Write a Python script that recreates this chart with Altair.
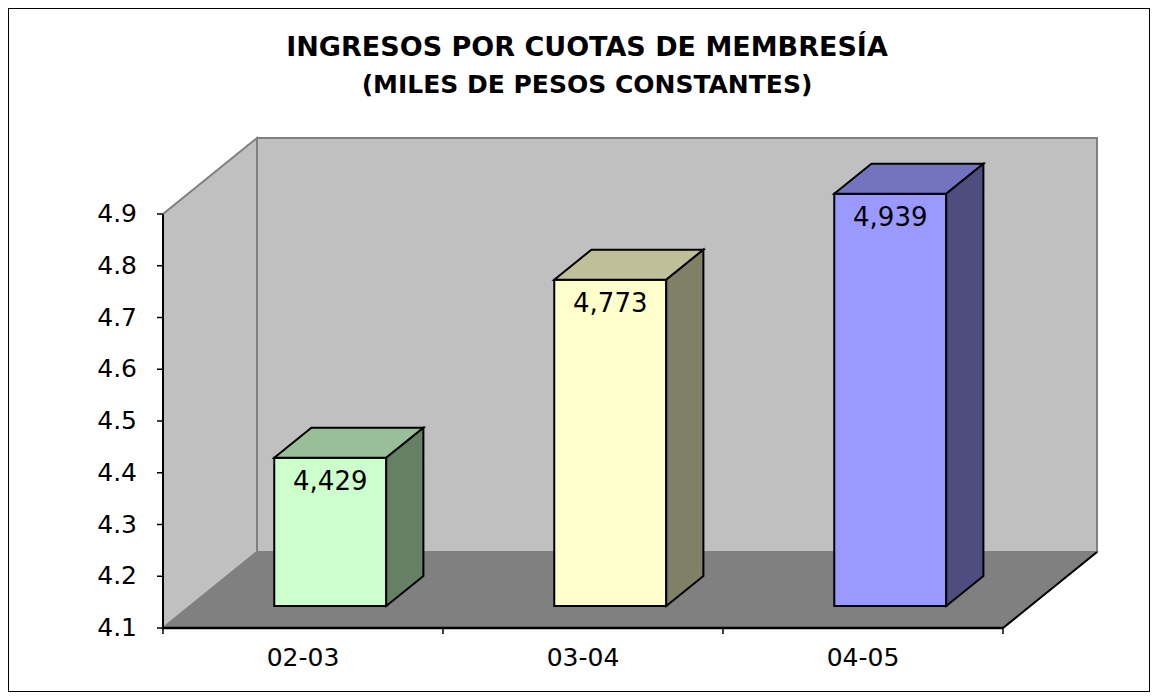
import altair as alt
import pandas as pd

# ---------------- data ----------------
CATEGORIES = ["02-03", "03-04", "04-05"]
VALUES = [4.429, 4.773, 4.939]
VALUE_LABELS = ["4,429", "4,773", "4,939"]
Y_TICKS = [4.1, 4.2, 4.3, 4.4, 4.5, 4.6, 4.7, 4.8, 4.9]
FRONT_COLORS = ["#CCFFCC", "#FFFFCC", "#9999FF"]
TOP_COLORS = ["#99BF99", "#BFBF99", "#7373BF"]
SIDE_COLORS = ["#668066", "#808066", "#4D4D80"]
TITLE_LINES = ["INGRESOS POR CUOTAS DE MEMBRESÍA", "(MILES DE PESOS CONSTANTES)"]

# ---------------- layout ----------------
W, H = 1142, 684          # whole framed chart = view
PX_X = 280.0              # px per category band
X0 = 155                  # px of front-left axis corner (from view left)
PX_Y = 517.5              # px per value unit
Y0 = 620                  # px of value 4.1 (from view top)
Y_MIN, Y_MAX = Y_TICKS[0], Y_TICKS[-1]
DX = 94 / PX_X            # oblique depth, x units
DY = 76 / PX_Y            # oblique depth, value units
BAR_W = 0.4
F0, F1 = 0.29, 0.685      # bar front/back depth fractions
N = len(CATEGORIES)
FONT = "DejaVu Sans"

xs = alt.Scale(domain=[-X0 / PX_X, (W - X0) / PX_X], nice=False, zero=False)
ys = alt.Scale(domain=[Y_MIN - (H - Y0) / PX_Y, Y_MIN + Y0 / PX_Y], nice=False, zero=False)


def X(f):
    return alt.X(f, type="quantitative", scale=xs, axis=None, stack=None)


def Y(f):
    return alt.Y(f, type="quantitative", scale=ys, axis=None, stack=None)


def X2(f):
    return alt.X2(f)


def Y2(f):
    return alt.Y2(f)


# back wall
back = alt.Chart(pd.DataFrame([{"x": DX, "x2": N + DX, "y": Y_MIN + DY, "y2": Y_MAX + DY}])).mark_rect(
    fill="#C0C0C0", stroke="#808080", strokeWidth=2
).encode(x=X("x"), x2=X2("x2"), y=Y("y"), y2=Y2("y2"))

# left wall
left = alt.Chart(pd.DataFrame([
    {"x": 0, "y": Y_MIN, "y2": Y_MAX},
    {"x": DX, "y": Y_MIN + DY, "y2": Y_MAX + DY},
])).mark_area(orient="vertical", fill="#C0C0C0", stroke="#808080", strokeWidth=2).encode(
    x=X("x"), y=Y("y"), y2=Y2("y2"))

# floor
floor = alt.Chart(pd.DataFrame([
    {"y": Y_MIN, "x": 0, "x2": N},
    {"y": Y_MIN + DY, "x": DX, "x2": N + DX},
])).mark_area(orient="horizontal", fill="#808080", stroke="#808080", strokeWidth=1.5).encode(
    y=Y("y"), x=X("x"), x2=X2("x2"))

floor_edge = alt.Chart(pd.DataFrame([
    {"x": N, "y": Y_MIN}, {"x": N + DX, "y": Y_MIN + DY},
])).mark_line(color="black", strokeWidth=2).encode(x=X("x"), y=Y("y"))

# axes
y_axis = alt.Chart(pd.DataFrame([{"x": 0, "y": Y_MIN, "y2": Y_MAX}])).mark_rule(
    color="black", strokeWidth=2).encode(x=X("x"), y=Y("y"), y2=Y2("y2"))
x_axis = alt.Chart(pd.DataFrame([{"x": 0, "x2": N, "y": Y_MIN}])).mark_rule(
    color="black", strokeWidth=2.5).encode(x=X("x"), x2=X2("x2"), y=Y("y"))

y_ticks = alt.Chart(pd.DataFrame({"y": Y_TICKS, "x": 0.0, "x2": -6 / PX_X})).mark_rule(
    color="black", strokeWidth=1.5).encode(x=X("x"), x2=X2("x2"), y=Y("y"))
x_ticks = alt.Chart(pd.DataFrame({"x": list(range(N + 1)), "y": Y_MIN, "y2": Y_MIN - 6 / PX_Y})).mark_rule(
    color="black", strokeWidth=1.5).encode(x=X("x"), y=Y("y"), y2=Y2("y2"))

y_labels = alt.Chart(pd.DataFrame({"y": Y_TICKS, "x": 0.0})).mark_text(
    align="right", baseline="middle", dx=-26, fontSize=25, font=FONT, color="black"
).encode(x=X("x"), y=Y("y"), text=alt.Text("y:Q", format=".1f"))

x_labels = alt.Chart(pd.DataFrame({"x": [i + 0.5 for i in range(N)], "y": Y_MIN, "t": CATEGORIES})).mark_text(
    align="center", baseline="alphabetic", dy=38, fontSize=25, font=FONT, color="black"
).encode(x=X("x"), y=Y("y"), text="t:N")

# bars
front_rows, top_rows, side_rows, lab_rows = [], [], [], []
for i, (v, lab) in enumerate(zip(VALUES, VALUE_LABELS)):
    xl = i + 0.5 - BAR_W / 2 + F0 * DX
    xr = i + 0.5 + BAR_W / 2 + F0 * DX
    ddx = (F1 - F0) * DX
    ddy = (F1 - F0) * DY
    front_rows.append({"x": xl, "x2": xr, "y": Y_MIN + F0 * DY, "y2": v, "fill": FRONT_COLORS[i]})
    top_rows += [
        {"bar": i, "y": v, "x": xl, "x2": xr, "fill": TOP_COLORS[i]},
        {"bar": i, "y": v + ddy, "x": xl + ddx, "x2": xr + ddx, "fill": TOP_COLORS[i]},
    ]
    side_rows += [
        {"bar": i, "x": xr, "y": Y_MIN + F0 * DY, "y2": v, "fill": SIDE_COLORS[i]},
        {"bar": i, "x": xr + ddx, "y": Y_MIN + F1 * DY, "y2": v + ddy, "fill": SIDE_COLORS[i]},
    ]
    lab_rows.append({"x": (xl + xr) / 2, "y": v, "t": lab})

fronts = alt.Chart(pd.DataFrame(front_rows)).mark_rect(stroke="black", strokeWidth=2).encode(
    x=X("x"), x2=X2("x2"), y=Y("y"), y2=Y2("y2"), fill=alt.Fill("fill:N", scale=None))
tops = alt.Chart(pd.DataFrame(top_rows)).mark_area(orient="horizontal", stroke="black", strokeWidth=2).encode(
    y=Y("y"), x=X("x"), x2=X2("x2"), fill=alt.Fill("fill:N", scale=None), detail="bar:N")
sides = alt.Chart(pd.DataFrame(side_rows)).mark_area(orient="vertical", stroke="black", strokeWidth=2).encode(
    x=X("x"), y=Y("y"), y2=Y2("y2"), fill=alt.Fill("fill:N", scale=None), detail="bar:N")
labels = alt.Chart(pd.DataFrame(lab_rows)).mark_text(
    align="center", baseline="alphabetic", dy=32, fontSize=26, font=FONT, color="black"
).encode(x=X("x"), y=Y("y"), text="t:N")

# title
title1 = alt.Chart(pd.DataFrame({"t": [TITLE_LINES[0]]})).mark_text(
    align="center", baseline="alphabetic", fontSize=27, fontWeight="bold", font=FONT, color="black"
).encode(x=alt.value(579), y=alt.value(48), text="t:N")
title2 = alt.Chart(pd.DataFrame({"t": [TITLE_LINES[1]]})).mark_text(
    align="center", baseline="alphabetic", fontSize=25, fontWeight="bold", font=FONT, color="black"
).encode(x=alt.value(579), y=alt.value(85), text="t:N")

chart = alt.layer(
    back, left, floor, floor_edge, y_axis, x_axis, y_ticks, x_ticks, y_labels, x_labels,
    fronts, tops, sides, labels, title1, title2
).properties(
    width=W, height=H, autosize=alt.AutoSizeParams(type="none"), padding=0, background="white"
).configure_view(stroke="black", strokeWidth=2)

chart.save("out.html", embed_options={"renderer": "svg", "actions": False})
